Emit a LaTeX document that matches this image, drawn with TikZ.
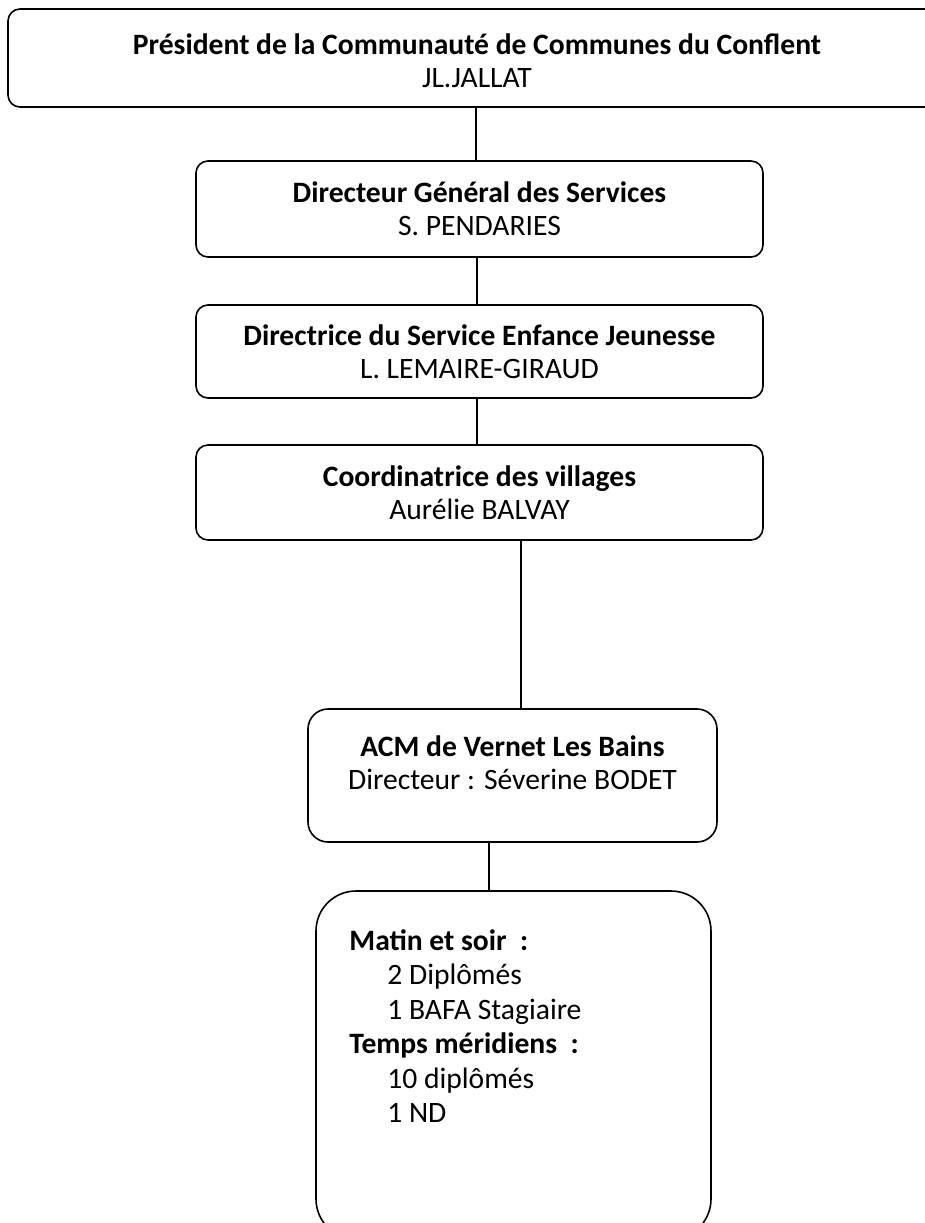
\documentclass[tikz,border=0pt]{standalone}
\usepackage{fontspec}
\setmainfont{Carlito}
\usepackage{tikz}
\usetikzlibrary{positioning}

\begin{document}
\begin{tikzpicture}[
    x=0.5pt, y=-0.5pt,
    box/.style={draw, line width=0.8pt, inner sep=0pt, align=center, rounded corners=6pt, font=\fontsize{14.8}{16.5}\selectfont},
    txt/.style={inner sep=0pt, font=\fontsize{14.8}{16.5}\selectfont},
    link/.style={line width=0.8pt}
]
    \useasboundingbox (0,0) rectangle (925,1223);

    % Hierarchy
    \node[box, minimum width=476pt, minimum height=49pt] (pres) at (484,58) {};
    \node[txt, align=center] (prestxt) at (477,61) {\textbf{Président de la Communauté de Communes du Conflent}\\JL.JALLAT};
    \node[box, minimum width=283.5pt, minimum height=48pt] (dgs) at (479.5,209) {\textbf{Directeur Général des Services}\\S. PENDARIES};
    \node[box, minimum width=283.5pt, minimum height=46.5pt] (dsej) at (479.5,351.5) {\textbf{Directrice du Service Enfance Jeunesse}\\L. LEMAIRE-GIRAUD};
    \node[box, minimum width=283.5pt, minimum height=47.5pt] (coord) at (479.5,492.5) {\textbf{Coordinatrice des villages}\\Aurélie BALVAY};

    % ACM
    \node[box, rounded corners=10pt, minimum width=204.5pt, minimum height=66.5pt] (acm) at (512.5,775.5) {};
    \node[txt, align=center] (acmtxt) at (512.5,763) {\textbf{ACM de Vernet Les Bains}\\Directeur : Séverine BODET};

    % Team
    \node[box, rounded corners=20pt, minimum width=197.5pt, minimum height=174pt] (equipe) at (513.5,1065) {};
    \node[txt, align=left, anchor=north west, font=\fontsize{14.8}{17.25}\selectfont] (equipetxt) at (349,929) {\textbf{Matin et soir~ :}\\
        \hspace*{19pt}2 Diplômés\\
        \hspace*{19pt}1 BAFA Stagiaire\\
        \textbf{Temps méridiens~ :}\\
        \hspace*{19pt}10 diplômés\\
        \hspace*{19pt}1 ND};

    % Links
    \draw[link] (pres.south -| 476,0) -- (dgs.north -| 476,0);
    \draw[link] (dgs.south -| 477,0) -- (dsej.north -| 477,0);
    \draw[link] (dsej.south -| 477,0) -- (coord.north -| 477,0);
    \draw[link] (coord.south -| 521,0) -- (acm.north -| 521,0);
    \draw[link] (acm.south -| 489,0) -- (equipe.north -| 489,0);
\end{tikzpicture}
\end{document}
